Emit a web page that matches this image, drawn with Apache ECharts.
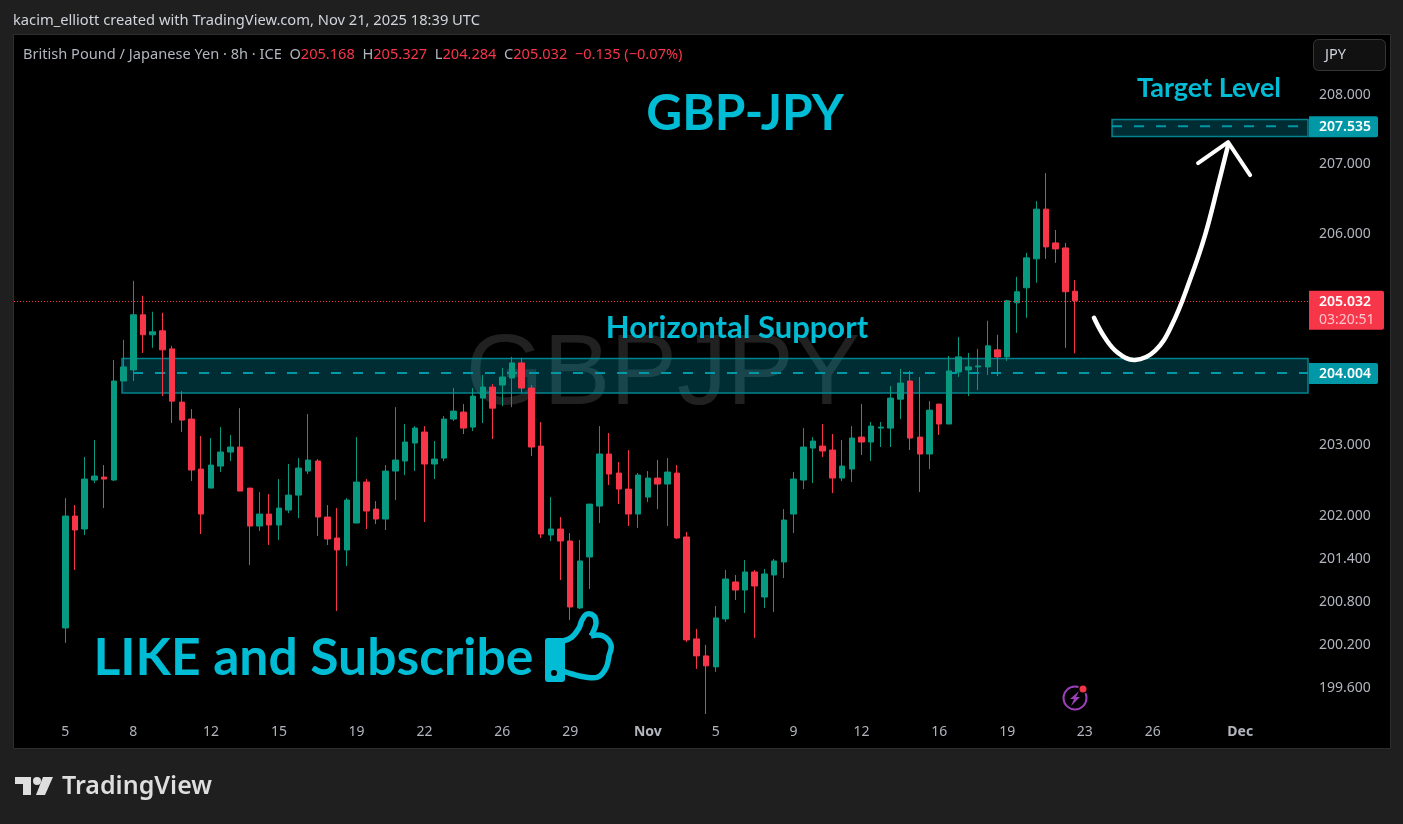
<!DOCTYPE html>
<html>
<head>
<meta charset="utf-8">
<title>GBP-JPY</title>
<script src="https://cdn.jsdelivr.net/npm/echarts@6/dist/echarts.min.js"></script>
<style>
html, body { margin: 0; padding: 0; background: #1f1f1f; }
#chart { width: 1403px; height: 824px; }
</style>
</head>
<body>
<div id="chart"></div>
<script>
// 8h candles
var opens = [200.421,201.986,201.804,202.492,202.534,202.492,203.891,204.048,204.832,204.547,204.604,204.347,203.592,203.352,202.647,202.379,202.689,202.887,202.957,202.379,201.846,202.014,201.860,202.070,202.280,202.619,202.760,201.972,201.678,201.510,201.888,202.464,202.084,201.944,202.619,202.760,203.014,203.169,202.718,202.802,203.352,203.451,203.239,203.649,203.805,203.834,203.934,204.148,203.791,202.971,201.720,201.804,201.636,200.699,201.412,202.126,202.859,202.591,202.365,202.014,202.252,202.520,202.436,202.591,201.692,200.268,200.032,199.879,200.546,201.062,200.950,201.202,200.852,201.160,201.342,202.014,202.492,202.943,202.971,202.915,202.520,202.647,203.098,203.028,203.225,203.225,203.634,203.891,203.098,202.859,203.564,203.282,204.019,204.048,204.091,204.091,204.333,204.233,205.003,205.217,205.630,206.342,205.858,205.786,205.168];
var highs = [202.238,202.140,202.816,203.056,202.703,204.190,204.476,205.317,205.103,204.875,204.861,204.390,203.748,203.493,203.112,203.084,203.239,203.127,203.507,202.379,202.323,202.295,202.506,202.718,202.802,203.423,202.788,202.140,202.098,202.238,203.098,202.506,202.196,202.703,203.521,203.282,203.253,203.253,203.042,203.394,203.791,203.564,203.791,203.977,203.848,204.076,204.233,204.219,203.834,203.310,202.252,201.972,201.748,201.650,202.154,203.253,203.155,202.746,202.915,202.591,202.619,202.774,202.802,202.703,201.762,200.407,200.185,200.727,201.230,201.160,201.370,201.230,201.244,201.384,202.084,202.605,203.225,203.098,203.282,203.141,203.056,203.253,203.564,203.310,203.310,203.820,204.062,204.034,203.948,203.606,203.564,204.247,204.518,204.290,204.347,204.747,204.547,205.046,205.374,205.715,206.456,206.859,206.043,205.858,205.327];
var lows = [200.212,201.230,201.720,202.450,202.098,202.478,203.891,203.891,204.290,204.362,203.677,203.296,203.169,202.478,201.734,202.379,202.605,202.760,202.337,201.300,201.776,201.580,201.650,202.028,201.958,202.577,201.706,201.580,200.657,201.286,201.888,201.804,201.874,201.790,202.210,202.562,202.619,201.902,202.506,202.760,203.324,203.141,203.183,203.296,203.070,203.535,203.521,203.720,202.830,201.678,201.636,201.090,200.532,200.685,200.964,201.888,202.422,202.154,201.846,201.818,202.182,202.084,201.846,201.664,200.226,199.851,199.225,199.809,200.504,200.810,200.629,200.282,200.699,200.643,201.118,201.748,202.365,202.450,202.816,202.309,202.478,202.464,202.845,202.760,202.957,202.957,203.352,202.915,202.323,202.647,203.127,203.282,203.948,203.677,203.763,203.977,203.962,204.176,204.575,204.789,205.288,205.630,205.573,204.362,204.284];
var closes = [201.986,201.790,202.506,202.548,202.506,203.891,204.091,204.832,204.547,204.590,204.333,203.606,203.338,202.633,202.014,202.703,202.887,202.957,202.337,201.846,202.014,201.860,202.098,202.280,202.661,202.774,201.972,201.664,201.510,202.210,202.464,202.056,201.944,202.619,202.774,203.028,203.225,202.718,202.788,203.352,203.465,203.225,203.677,203.805,203.507,203.948,204.148,203.791,202.957,201.734,201.804,201.636,200.713,201.356,202.154,202.859,202.577,202.365,202.014,202.562,202.520,202.436,202.605,201.678,200.254,200.032,199.893,200.560,201.104,200.950,201.202,201.006,201.174,201.356,201.930,202.506,202.957,203.042,202.901,202.520,202.689,203.084,203.028,203.253,203.239,203.649,203.862,203.084,202.859,203.479,203.282,204.034,204.233,204.091,204.105,204.390,204.233,205.032,205.160,205.644,206.342,205.801,205.772,205.160,205.032];

var priceTicks = [208, 207, 206, 203, 202, 201.4, 200.8, 200.2, 199.6];
var timeTicks = [0, 7, 15, 22, 30, 37, 45, 52, 60, 67, 75, 82, 90, 97, 105, 112, 121];
var timeLabels = ['5', '8', '12', '15', '19', '22', '26', '29', 'Nov', '5', '9', '12', '16', '19', '23', '26', 'Dec'];

// drawn zones: start bar, upper edge, middle dashes, lower edge
var supportZone = [5.84, 204.21, 204.004, 203.72];
var targetZone = [107.8, 207.63, 207.535, 207.386];
// hand drawn swoosh and its head, bar index + price
var arrowCurve = [[105.94,204.789],[107.07,204.504],[108.41,204.29],[110.16,204.19],[112.22,204.319],[113.97,204.69],[115.83,205.331],[117.38,205.97],[118.72,206.686],[119.75,207.262]];
var arrowHead = [[116.66,207.003],[119.75,207.305],[122.02,206.83]];

var lastPrice = 205.032;
var UP = '#089981', DOWN = '#f7364a', CYAN = '#00bcd4', GREY = '#b2b5be';
var UI_FONT = '"Noto Sans", sans-serif', NOTE_FONT = 'Lato, "Noto Sans", sans-serif';
var X_MIN = -5.283, X_MAX = 127.98;

var candles = opens.map(function (o, i) {
    return [i, o, closes[i], lows[i], highs[i]];
});

var chart = echarts.init(document.getElementById('chart'));

function zoneItem(params, api) {
    var left = api.coord([api.value(0), api.value(1)]);
    var mid = api.coord([api.value(0), api.value(2)]);
    var low = api.coord([api.value(0), api.value(3)]);
    var right = api.coord([X_MAX, api.value(1)])[0];
    return {
        type: 'group',
        children: [{
            type: 'rect',
            shape: { x: left[0], y: left[1], width: right - left[0], height: low[1] - left[1] },
            style: { fill: 'rgba(0,188,212,0.24)', stroke: '#00838f', lineWidth: 1.5 }
        }, {
            type: 'line',
            shape: { x1: left[0], y1: mid[1], x2: right, y2: mid[1] },
            style: { stroke: '#0097a7', lineWidth: 2, lineDash: [10, 12], lineDashOffset: params.dataIndex === 0 ? 11 : 0 }
        }]
    };
}

function arrowItem(params, api) {
    return {
        type: 'polyline',
        shape: { smooth: 0.4, points: arrowCurve.map(function (p) { return api.coord(p); }) },
        style: { fill: 'none', stroke: '#fff', lineWidth: 4.5, lineCap: 'round' }
    };
}

function tagItem(params, api) {
    var p = api.coord([X_MAX, api.value(0)]);
    return {
        type: 'group',
        children: [{
            type: 'rect',
            shape: { x: p[0] + 1, y: p[1] - 10, width: 69, height: 21, r: [0, 2, 2, 0] },
            style: { fill: '#0097a7' }
        }, {
            type: 'text',
            style: {
                x: p[0] + 11, y: p[1] + 1, text: api.value(0).toFixed(3), fill: '#fff',
                font: '600 14px ' + UI_FONT, verticalAlign: 'middle'
            }
        }]
    };
}

function lastTagItem(params, api) {
    var p = api.coord([X_MAX, api.value(0)]);
    return {
        type: 'group',
        children: [{
            type: 'rect',
            shape: { x: p[0] + 1, y: p[1] - 10, width: 75, height: 39, r: [0, 2, 2, 0] },
            style: { fill: DOWN }
        }, {
            type: 'text',
            style: {
                x: p[0] + 11, y: p[1] + 1, text: api.value(0).toFixed(3), fill: '#fff',
                font: '600 14px ' + UI_FONT, verticalAlign: 'middle'
            }
        }, {
            type: 'text',
            style: {
                x: p[0] + 11, y: p[1] + 19, text: '03:20:51', fill: '#ffc4cb',
                font: '14px ' + UI_FONT, verticalAlign: 'middle'
            }
        }]
    };
}

var option = {
    animation: false,
    backgroundColor: '#1f1f1f',
    grid: { left: 14, right: 95, top: 35, bottom: 76 },
    xAxis: {
        type: 'value', min: X_MIN, max: X_MAX,
        splitLine: { show: false }, axisLine: { show: false }, axisTick: { show: false },
        axisLabel: {
            inside: true, margin: 9, color: GREY, fontFamily: UI_FONT, fontSize: 14,
            customValues: timeTicks,
            formatter: function (v) {
                var s = timeLabels[timeTicks.indexOf(v)];
                return /[a-z]/.test(s) ? '{m|' + s + '}' : s;
            },
            rich: { m: { fontWeight: 'bold', color: GREY, fontFamily: UI_FONT, fontSize: 14 } }
        }
    },
    yAxis: {
        type: 'log', logBase: 10, min: 198.755, max: 208.855, position: 'right',
        splitLine: { show: false }, axisLine: { show: false }, axisTick: { show: false },
        axisLabel: { show: false }
    },
    graphic: [
        { type: 'rect', z: -20, shape: { x: 13.5, y: 34.5, width: 1377, height: 714 }, style: { fill: '#000', stroke: '#2e2e2e', lineWidth: 1 } },
        { type: 'text', z: -10, style: { x: 663, y: 376, text: 'GBPJPY', fill: 'rgba(255,255,255,0.13)', font: '100px "Liberation Sans", sans-serif', align: 'center', verticalAlign: 'middle' } },
        { type: 'text', z: 10, style: { x: 13, y: 21, text: 'kacim_elliott created with TradingView.com, Nov 21, 2025 18:39 UTC', fill: '#d1d4dc', font: '14.7px ' + UI_FONT, verticalAlign: 'middle' } },
        {
            type: 'text', z: 10,
            style: {
                x: 23, y: 55, verticalAlign: 'middle', fill: GREY, font: '14.6px ' + UI_FONT,
                text: 'British Pound / Japanese Yen · 8h · ICE  O{r|205.168}  H{r|205.327}  L{r|204.284}  C{r|205.032}  {r|−0.135 (−0.07%)}',
                rich: { r: { fill: DOWN, font: '14.6px ' + UI_FONT } }
            }
        },
        { type: 'rect', z: 10, shape: { x: 1313.5, y: 39.5, width: 72, height: 31, r: 5 }, style: { fill: '#111', stroke: '#363636', lineWidth: 1 } },
        { type: 'text', z: 11, style: { x: 1325, y: 55, text: 'JPY', fill: '#d1d4dc', font: '14.5px ' + UI_FONT, verticalAlign: 'middle' } },
        { type: 'text', z: 10, style: { x: 745, y: 114, text: 'GBP-JPY', fill: CYAN, font: 'bold 49.5px ' + NOTE_FONT, align: 'center', verticalAlign: 'middle' } },
        { type: 'text', z: 10, style: { x: 1209, y: 88, text: 'Target Level', fill: CYAN, font: 'bold 27px ' + NOTE_FONT, align: 'center', verticalAlign: 'middle' } },
        { type: 'text', z: 10, style: { x: 737, y: 328, text: 'Horizontal Support', fill: CYAN, font: 'bold 31px ' + NOTE_FONT, align: 'center', verticalAlign: 'middle' } },
        { type: 'text', z: 10, style: { x: 93.5, y: 658, text: 'LIKE and Subscribe', fill: CYAN, font: 'bold 51.6px ' + NOTE_FONT, verticalAlign: 'middle' } },
        // thumbs up
        { type: 'rect', z: 10, shape: { x: 545, y: 638, width: 20, height: 44, r: 3 }, style: { fill: CYAN } },
        { type: 'circle', z: 11, shape: { cx: 554, cy: 673, r: 3 }, style: { fill: '#000' } },
        { type: 'polyline', z: 10, shape: { smooth: 0.4, points: [[563, 641], [572, 637], [579, 628], [582, 620], [587, 614], [594, 616], [596, 623], [594, 630], [591, 636]] }, style: { fill: 'none', stroke: CYAN, lineWidth: 5.5 } },
        { type: 'polyline', z: 10, shape: { smooth: 0.4, points: [[591, 636], [603, 636], [611, 645], [609, 656], [606, 668], [598, 677], [585, 677], [572, 674], [563, 671]] }, style: { fill: 'none', stroke: CYAN, lineWidth: 5.5 } },
        // alert badge
        { type: 'circle', z: 10, shape: { cx: 1075, cy: 698, r: 11.5 }, style: { fill: 'none', stroke: '#9c3fb8', lineWidth: 2 } },
        { type: 'polygon', z: 10, shape: { points: [[1079, 691], [1070, 699], [1074, 699], [1071, 706], [1080, 697], [1076, 697]] }, style: { fill: '#9c3fb8' } },
        { type: 'circle', z: 11, shape: { cx: 1083, cy: 689, r: 5 }, style: { fill: '#000' } },
        { type: 'circle', z: 12, shape: { cx: 1083, cy: 689, r: 3.5 }, style: { fill: '#f23645' } },
        // logo
        { type: 'polygon', z: 10, shape: { points: [[15, 777], [31, 777], [31, 795], [23, 795], [23, 784], [15, 784]] }, style: { fill: '#dedede' } },
        { type: 'polygon', z: 10, shape: { points: [[43, 777], [53, 777], [45, 795], [36, 795]] }, style: { fill: '#dedede' } },
        { type: 'circle', z: 10, shape: { cx: 37, cy: 781, r: 4 }, style: { fill: '#dedede' } },
        { type: 'text', z: 10, style: { x: 62, y: 787, text: 'TradingView', fill: '#dedede', font: '600 25px ' + UI_FONT, verticalAlign: 'middle' } }
    ],
    series: [
        { type: 'custom', z: 1, renderItem: zoneItem, data: [supportZone, targetZone], silent: true },
        {
            type: 'line', z: 1, symbol: 'none', silent: true, data: [],
            markLine: {
                symbol: 'none', silent: true, label: { show: false },
                lineStyle: { color: DOWN, type: [1, 2], width: 1 },
                data: [{ yAxis: lastPrice }]
            }
        },
        {
            type: 'candlestick', z: 3, barWidth: 6, data: candles,
            encode: { x: 0, y: [1, 2, 3, 4] },
            itemStyle: { color: UP, color0: DOWN, borderColor: UP, borderColor0: DOWN, borderWidth: 1 }
        },
        { type: 'custom', z: 5, silent: true, renderItem: arrowItem, data: [arrowCurve[0]] },
        { type: 'line', z: 5, data: arrowHead, symbol: 'none', silent: true, lineStyle: { color: '#fff', width: 4, cap: 'round', join: 'round' } },
        {
            type: 'custom', z: 6, silent: true, data: priceTicks.map(function (v) { return [v]; }),
            encode: { y: 0 },
            renderItem: function (params, api) {
                var p = api.coord([X_MAX, api.value(0)]);
                return { type: 'text', style: { x: p[0] + 11, y: p[1] + 1, text: api.value(0).toFixed(3), fill: GREY, font: '14px ' + UI_FONT, verticalAlign: 'middle' } };
            }
        },
        { type: 'custom', z: 6, silent: true, renderItem: tagItem, data: [[supportZone[2]], [targetZone[2]]], encode: { y: 0 } },
        { type: 'custom', z: 6, silent: true, renderItem: lastTagItem, data: [[lastPrice]], encode: { y: 0 } }
    ]
};

chart.setOption(option);
</script>
</body>
</html>
